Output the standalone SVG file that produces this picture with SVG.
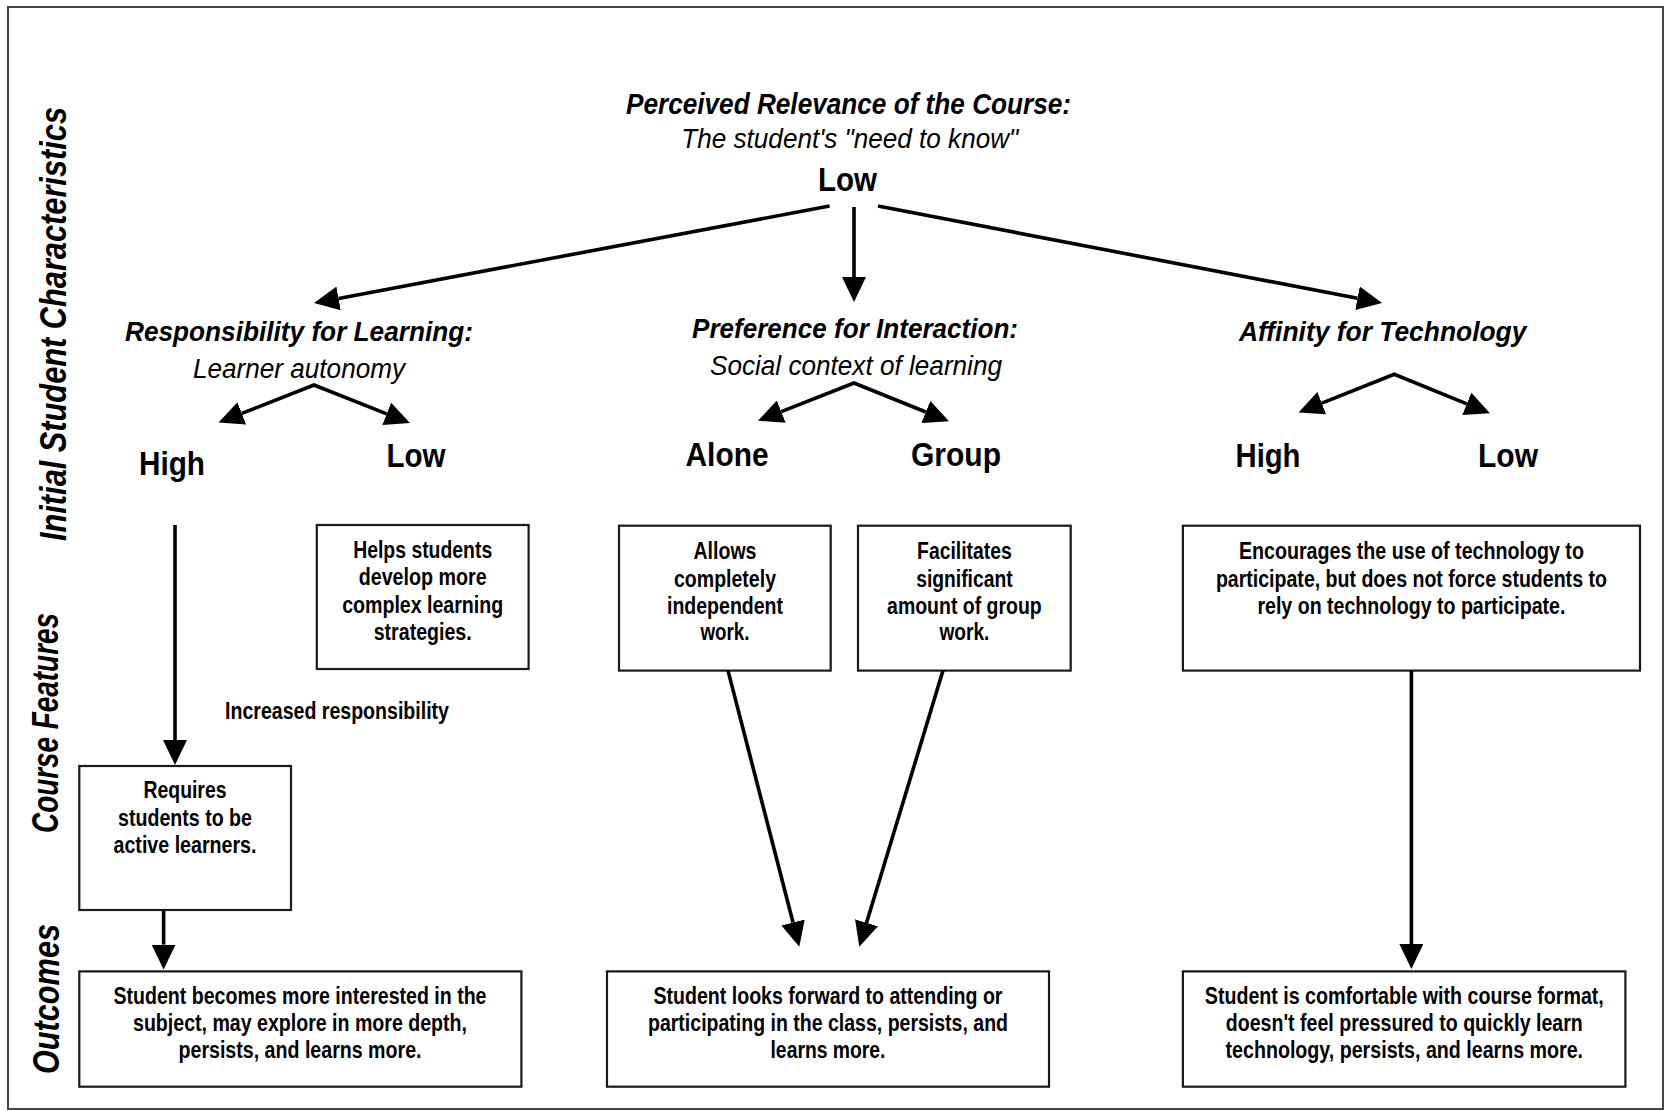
<svg xmlns="http://www.w3.org/2000/svg" width="1665" height="1111" viewBox="0 0 1665 1111">
<style>
text{font-family:'Liberation Sans Narrow','Liberation Sans',Arial,sans-serif;fill:#000;text-anchor:middle}
.b{font-weight:bold}
.i{font-style:italic}
.side{font-weight:bold;font-style:italic;font-size:36px}
.title{font-weight:bold;font-style:italic;font-size:30px}
.head{font-weight:bold;font-style:italic;font-size:28px}
.sub{font-style:italic;font-size:27px}
.lvl{font-weight:bold;font-size:34px}
.bx{font-weight:bold;font-size:23px}
.box{fill:#fff;stroke:#1a1a1a;stroke-width:2.2}
.con{fill:none;stroke:#000;stroke-width:3.6;stroke-linejoin:miter}
</style>
<defs>
<marker id="ah" viewBox="0 0 25 24" refX="0" refY="12" markerWidth="25" markerHeight="24" markerUnits="userSpaceOnUse" orient="auto-start-reverse">
<path d="M0,0 L25,12 L0,24 z" fill="#000"/>
</marker>
</defs>
<rect x="8" y="7" width="1655" height="1102" fill="#fff" stroke="#444" stroke-width="2"/>

<g id="side-labels">
<text class="side" transform="rotate(-90 66 324)" x="66" y="324" textLength="434" lengthAdjust="spacingAndGlyphs">Initial Student Characteristics</text>
<text class="side" transform="rotate(-90 58 723)" x="58" y="723" textLength="220" lengthAdjust="spacingAndGlyphs">Course Features</text>
<text class="side" transform="rotate(-90 59 999)" x="59" y="999" textLength="150" lengthAdjust="spacingAndGlyphs">Outcomes</text>
</g>

<g id="relevance">
<text class="title" x="848.5" y="113.6" textLength="445" lengthAdjust="spacingAndGlyphs">Perceived Relevance of the Course:</text>
<text class="sub" x="849.8" y="148" font-size="28" textLength="337" lengthAdjust="spacingAndGlyphs">The student's "need to know"</text>
<text class="lvl" x="847.5" y="191" textLength="59" lengthAdjust="spacingAndGlyphs">Low</text>
</g>

<g id="responsibility">
<text class="head" x="299" y="341" textLength="348" lengthAdjust="spacingAndGlyphs">Responsibility for Learning:</text>
<text class="sub" x="299" y="378" textLength="212" lengthAdjust="spacingAndGlyphs">Learner autonomy</text>
</g>
<g id="resp-high"><text class="lvl" x="172" y="475" textLength="66" lengthAdjust="spacingAndGlyphs">High</text></g>
<g id="resp-low"><text class="lvl" x="416" y="466.8" textLength="59" lengthAdjust="spacingAndGlyphs">Low</text></g>

<g id="interaction">
<text class="head" x="855" y="337.5" textLength="326" lengthAdjust="spacingAndGlyphs">Preference for Interaction:</text>
<text class="sub" x="856" y="375" textLength="292" lengthAdjust="spacingAndGlyphs">Social context of learning</text>
</g>
<g id="int-alone"><text class="lvl" x="727" y="466" textLength="83" lengthAdjust="spacingAndGlyphs">Alone</text></g>
<g id="int-group"><text class="lvl" x="956" y="466" textLength="90" lengthAdjust="spacingAndGlyphs">Group</text></g>

<g id="technology">
<text class="head" x="1382.7" y="341" textLength="287.5" lengthAdjust="spacingAndGlyphs">Affinity for Technology</text>
</g>
<g id="tech-high"><text class="lvl" x="1268" y="466.8" textLength="65" lengthAdjust="spacingAndGlyphs">High</text></g>
<g id="tech-low"><text class="lvl" x="1508" y="466.8" textLength="60" lengthAdjust="spacingAndGlyphs">Low</text></g>

<g id="helps">
<rect class="box" x="316.8" y="525" width="211.8" height="144"/>
<text class="bx" x="422.7" y="558" textLength="139" lengthAdjust="spacingAndGlyphs">Helps students</text>
<text class="bx" x="422.7" y="585" textLength="128" lengthAdjust="spacingAndGlyphs">develop more</text>
<text class="bx" x="422.7" y="612.5" textLength="161" lengthAdjust="spacingAndGlyphs">complex learning</text>
<text class="bx" x="422.7" y="639.6" textLength="98" lengthAdjust="spacingAndGlyphs">strategies.</text>
</g>

<g id="allows">
<rect class="box" x="619" y="525.7" width="211.7" height="144.9"/>
<text class="bx" x="725" y="558.5" textLength="63" lengthAdjust="spacingAndGlyphs">Allows</text>
<text class="bx" x="725" y="586.5" textLength="102" lengthAdjust="spacingAndGlyphs">completely</text>
<text class="bx" x="725" y="613.5" textLength="116" lengthAdjust="spacingAndGlyphs">independent</text>
<text class="bx" x="725" y="640" textLength="49" lengthAdjust="spacingAndGlyphs">work.</text>
</g>

<g id="facilitates">
<rect class="box" x="858" y="525.7" width="212.7" height="144.9"/>
<text class="bx" x="964.4" y="558.5" textLength="94.6" lengthAdjust="spacingAndGlyphs">Facilitates</text>
<text class="bx" x="964.4" y="586.5" textLength="96.4" lengthAdjust="spacingAndGlyphs">significant</text>
<text class="bx" x="964.4" y="613.5" textLength="154.6" lengthAdjust="spacingAndGlyphs">amount of group</text>
<text class="bx" x="964.4" y="640" textLength="50" lengthAdjust="spacingAndGlyphs">work.</text>
</g>

<g id="encourages">
<rect class="box" x="1182.9" y="525.7" width="457.1" height="144.9"/>
<text class="bx" x="1411.4" y="558.5" textLength="345" lengthAdjust="spacingAndGlyphs">Encourages the use of technology to</text>
<text class="bx" x="1411.4" y="586.5" textLength="391" lengthAdjust="spacingAndGlyphs">participate, but does not force students to</text>
<text class="bx" x="1411.4" y="613.5" textLength="308" lengthAdjust="spacingAndGlyphs">rely on technology to participate.</text>
</g>

<g id="increased-label">
<text class="bx" x="337" y="719" textLength="224" lengthAdjust="spacingAndGlyphs">Increased responsibility</text>
</g>

<g id="requires">
<rect class="box" x="79.3" y="766" width="211.7" height="144"/>
<text class="bx" x="185" y="798" textLength="83" lengthAdjust="spacingAndGlyphs">Requires</text>
<text class="bx" x="185" y="825.5" textLength="134" lengthAdjust="spacingAndGlyphs">students to be</text>
<text class="bx" x="185" y="852.8" textLength="143" lengthAdjust="spacingAndGlyphs">active learners.</text>
</g>

<g id="outcome-1">
<rect class="box" x="79.3" y="971.4" width="442.1" height="115.3"/>
<text class="bx" x="300" y="1004" textLength="373" lengthAdjust="spacingAndGlyphs">Student becomes more interested in the</text>
<text class="bx" x="300" y="1030.5" textLength="334" lengthAdjust="spacingAndGlyphs">subject, may explore in more depth,</text>
<text class="bx" x="300" y="1057.5" textLength="243" lengthAdjust="spacingAndGlyphs">persists, and learns more.</text>
</g>

<g id="outcome-2">
<rect class="box" x="607" y="971.4" width="442" height="115.3"/>
<text class="bx" x="828" y="1004" textLength="349" lengthAdjust="spacingAndGlyphs">Student looks forward to attending or</text>
<text class="bx" x="828" y="1030.5" textLength="360" lengthAdjust="spacingAndGlyphs">participating in the class, persists, and</text>
<text class="bx" x="828" y="1057.5" textLength="115" lengthAdjust="spacingAndGlyphs">learns more.</text>
</g>

<g id="outcome-3">
<rect class="box" x="1182.9" y="971.4" width="442.5" height="115.3"/>
<text class="bx" x="1404.3" y="1004" textLength="399" lengthAdjust="spacingAndGlyphs">Student is comfortable with course format,</text>
<text class="bx" x="1404.3" y="1030.5" textLength="357" lengthAdjust="spacingAndGlyphs">doesn't feel pressured to quickly learn</text>
<text class="bx" x="1404.3" y="1057.5" textLength="357.5" lengthAdjust="spacingAndGlyphs">technology, persists, and learns more.</text>
</g>

<g id="connectors">
<path class="con" d="M829.6,206 L338.6,298.4" marker-end="url(#ah)"/>
<path class="con" d="M854,207 L854,277" marker-end="url(#ah)"/>
<path class="con" d="M878,206 L1357.5,298.3" marker-end="url(#ah)"/>
<path class="con" d="M241.8,413.4 L314,385 L386.7,413.8" marker-start="url(#ah)" marker-end="url(#ah)"/>
<path class="con" d="M781.3,411.6 L854,383 L925.8,412" marker-start="url(#ah)" marker-end="url(#ah)"/>
<path class="con" d="M1321.8,403.2 L1394.3,374.3 L1466.8,403.8" marker-start="url(#ah)" marker-end="url(#ah)"/>
<path class="con" d="M175,525 L175,740" marker-end="url(#ah)"/>
<path class="con" d="M163.6,910 L163.6,944.6" marker-end="url(#ah)"/>
<path class="con" d="M1411.4,670.6 L1411.4,944" marker-end="url(#ah)"/>
<path class="con" d="M728,670.6 L793.05,922.5" marker-end="url(#ah)"/>
<path class="con" d="M943,670.6 L866.55,922.8" marker-end="url(#ah)"/>
</g>
</svg>
